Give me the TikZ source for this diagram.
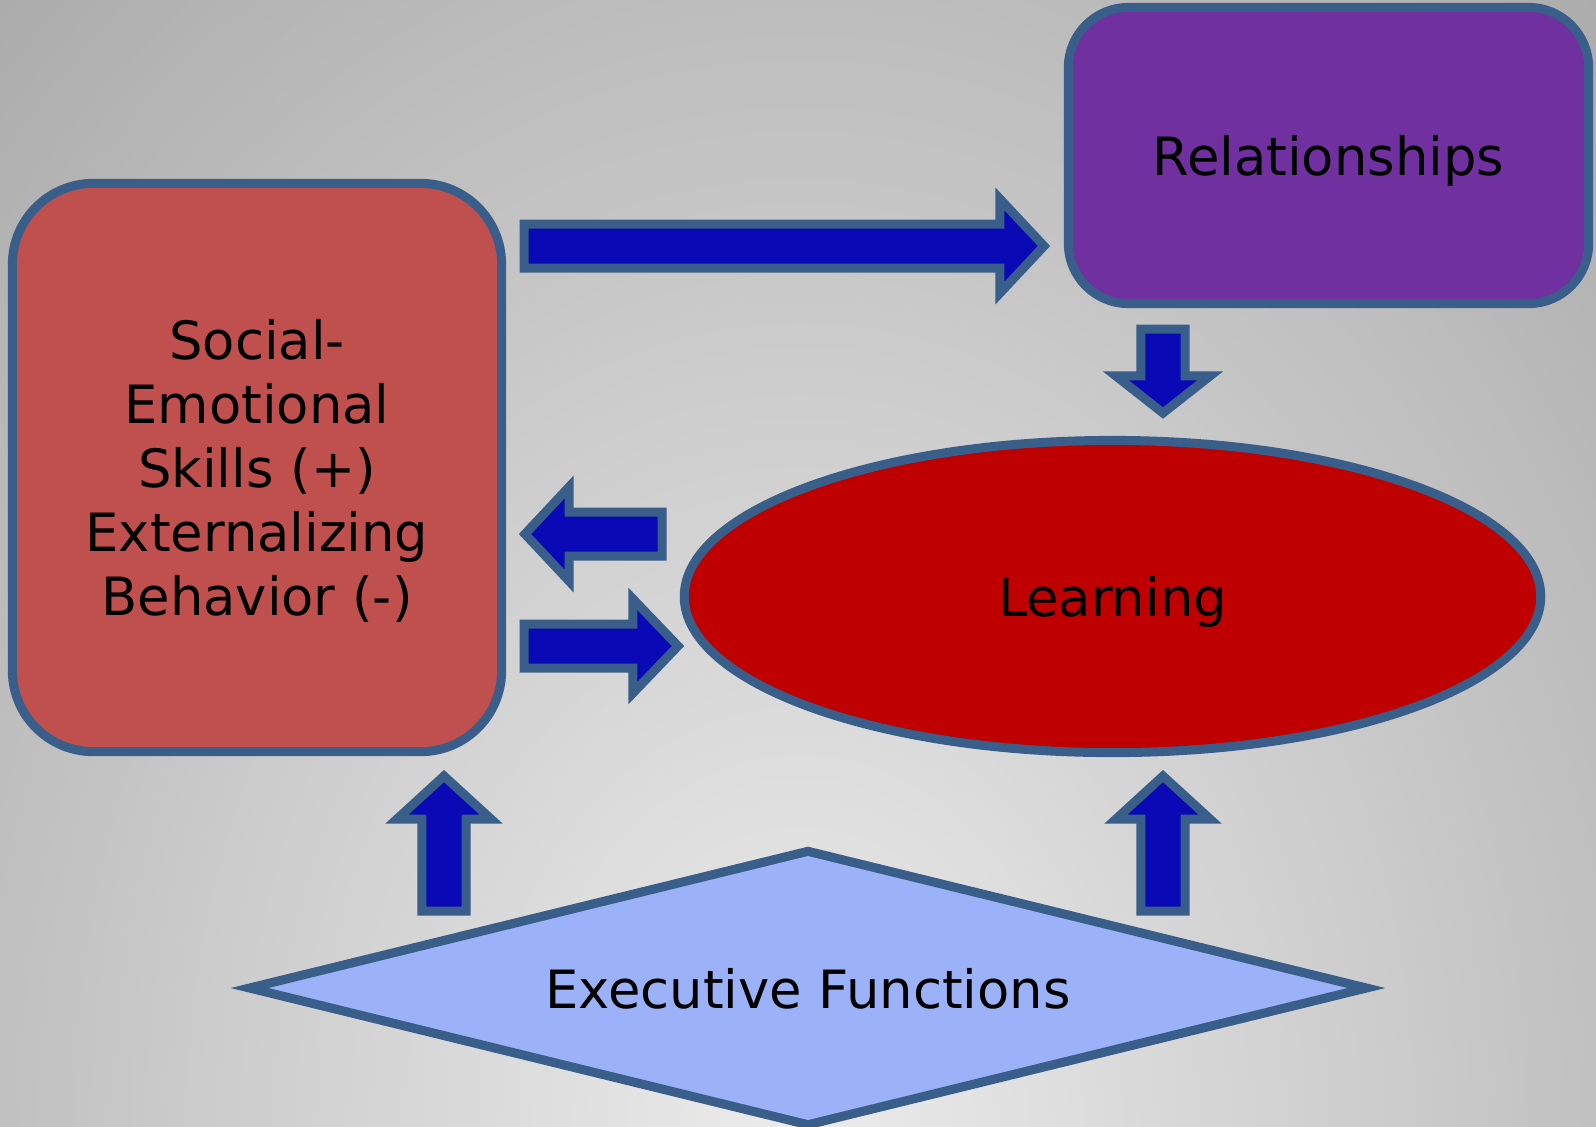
\documentclass[tikz,border=0pt]{standalone}
\usepackage{fontspec}
\setmainfont{DejaVu Sans}
\usetikzlibrary{calc,shapes.geometric}

\definecolor{bgin}{HTML}{ECECEC}
\definecolor{bgout}{HTML}{A8A8A8}
\definecolor{edge}{HTML}{3A5E8A}
\definecolor{arrowfill}{HTML}{0909B5}
\definecolor{selfill}{HTML}{C0504D}
\definecolor{relfill}{HTML}{7030A0}
\definecolor{learnfill}{HTML}{BE0000}
\definecolor{effill}{HTML}{9CB2F8}

\newcommand{\shaftw}{0.22cm}
\newcommand{\headw}{0.47cm}
\newcommand{\blockarrow}[3]{%
  \coordinate (ba-h) at ($(#2)!#3!(#1)$);
  \draw[blockarr] ($(#1)!\shaftw!90:(#2)$) -- ($(ba-h)!\shaftw!90:(#2)$)
    -- ($(ba-h)!\headw!90:(#2)$) -- (#2) -- ($(ba-h)!\headw!-90:(#2)$)
    -- ($(ba-h)!\shaftw!-90:(#2)$) -- ($(#1)!\shaftw!-90:(#2)$) -- cycle;}

\begin{document}
\begin{tikzpicture}[x=0.01cm,y=-0.01cm,
  shapebox/.style={draw=edge,line width=0.09cm,align=center,inner sep=0pt,
    text depth=0pt,font=\fontsize{15}{18.2}\selectfont},
  blockarr/.style={draw=edge,fill=arrowfill,line width=0.09cm}]
\useasboundingbox (0,0) rectangle (1596,1126);
\begin{scope}
\clip (0,0) rectangle (1596,1126);
\shade[inner color=bgin,outer color=bgout] (-450,-504) rectangle (2050,2756);
\end{scope}

\node[shapebox,fill=selfill,rounded corners=0.81cm,minimum width=4.89cm,minimum height=5.68cm] (sel) at (257,467.5) {Social-\\Emotional\\Skills (+)\\Externalizing\\Behavior (-)};
\node[shapebox,fill=relfill,rounded corners=0.6cm,minimum width=5.2cm,minimum height=2.96cm] (rel) at (1328.5,155.5) {Relationships};
\node[shapebox,fill=learnfill,ellipse,minimum width=8.56cm,minimum height=3.12cm] (learn) at (1112.5,596.5) {Learning};
\node[shapebox,fill=effill,diamond,aspect=4.05,minimum width=11.2cm,minimum height=2.77cm] (ef) at (808,988) {Executive Functions};

\coordinate (sel-rel-a) at (524,246);
\coordinate (sel-rel-b) at (1044,246);
\coordinate (learn-sel-a) at (662,534);
\coordinate (learn-sel-b) at (525,534);
\coordinate (sel-learn-a) at (524,646);
\coordinate (sel-learn-b) at (678,646);
\coordinate (rel-learn-a) at (1163,329);
\coordinate (rel-learn-b) at (1163,413);
\coordinate (ef-sel-a) at (444,911);
\coordinate (ef-sel-b) at (444,776);
\coordinate (ef-learn-a) at (1163,911);
\coordinate (ef-learn-b) at (1163,776);

\blockarrow{sel-rel-a}{sel-rel-b}{0.44cm}
\blockarrow{learn-sel-a}{learn-sel-b}{0.44cm}
\blockarrow{sel-learn-a}{sel-learn-b}{0.45cm}
\blockarrow{rel-learn-a}{rel-learn-b}{0.37cm}
\blockarrow{ef-sel-a}{ef-sel-b}{0.43cm}
\blockarrow{ef-learn-a}{ef-learn-b}{0.43cm}
\end{tikzpicture}
\end{document}
